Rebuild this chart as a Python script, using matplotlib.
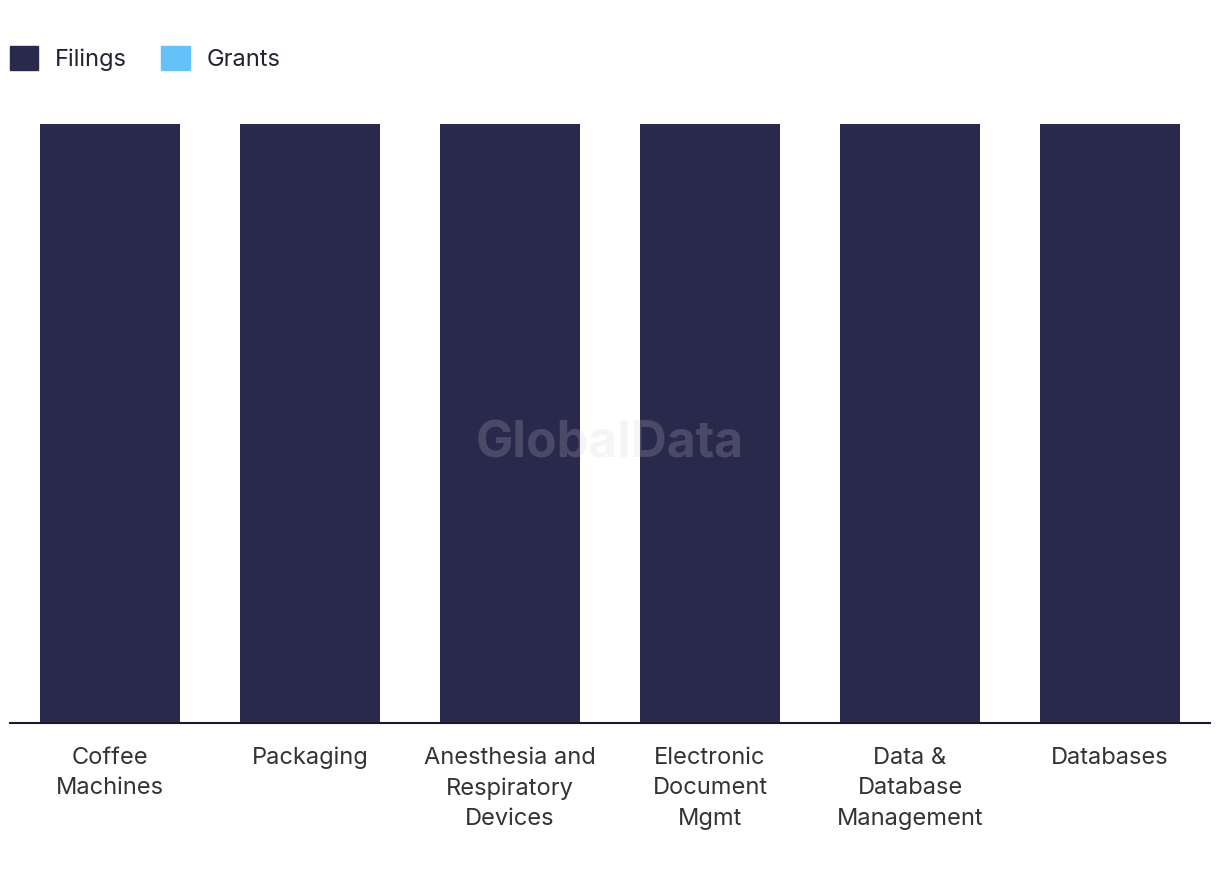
import matplotlib.pyplot as plt
from matplotlib.patches import Patch
import numpy as np

# chart data
categories = ["Coffee\nMachines", "Packaging", "Anesthesia and\nRespiratory\nDevices",
              "Electronic\nDocument\nMgmt", "Data &\nDatabase\nManagement", "Databases"]
filings = [1, 1, 1, 1, 1, 1]
grants = [0, 0, 0, 0, 0, 0]

filings_color = "#29294b"
grants_color = "#64c2f8"

plt.rcParams['font.family'] = ['Inter', 'DejaVu Sans']

fig = plt.figure(figsize=(12.2, 8.8), dpi=100)
ax = fig.add_axes([10/1220, 1 - 723/880, 1200/1220, (723 - 124)/880])

x = np.arange(len(categories))
ax.bar(x, filings, width=0.7, color=filings_color, zorder=2)
ax.bar(x, grants, width=0.7, bottom=filings, color=grants_color, zorder=2)

ax.set_xlim(-0.5, len(categories) - 0.5)
ax.set_ylim(0, max(filings))
ax.set_xticks(x)
ax.set_xticklabels(categories, fontsize=17, color="#333333", linespacing=1.5)
ax.tick_params(axis='x', length=0, pad=17)
ax.set_yticks([])
for s in ['top', 'right', 'left']:
    ax.spines[s].set_visible(False)
ax.spines['bottom'].set_color("#1a1a2e")
ax.spines['bottom'].set_linewidth(1.5)

handles = [Patch(color=filings_color, label="Filings"),
           Patch(color=grants_color, label="Grants")]
fig.legend(handles=handles, loc="upper left", bbox_to_anchor=(10/1220, 1 - 46/880),
           ncol=2, frameon=False, fontsize=17, handlelength=1.2, handleheight=1.2,
           handletextpad=0.72, columnspacing=1.45, borderpad=0, borderaxespad=0,
           labelcolor="#222233")

# watermark
fig.text(610/1220, 1 - 444/880, "GlobalData", fontsize=36, fontweight='bold',
         color="#d0d0d8", alpha=0.2, ha='center', va='center')

plt.savefig('out.png')
